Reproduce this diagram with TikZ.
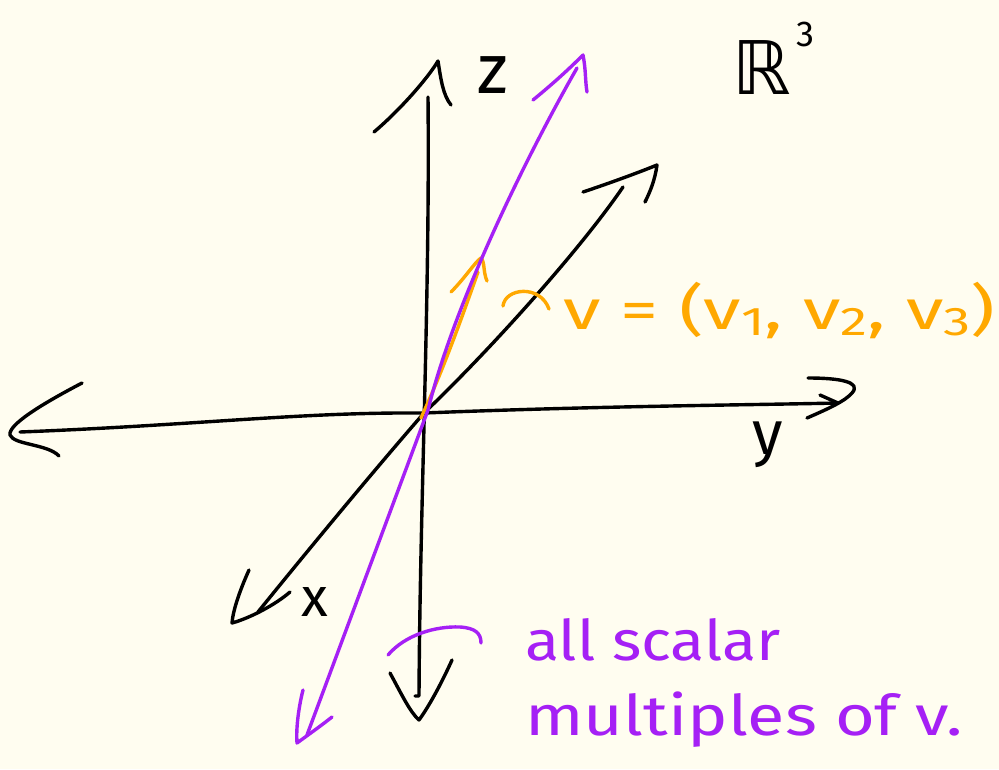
\documentclass[tikz,border=0pt]{standalone}
\usepackage{fontspec}
\setmainfont{Fira Sans}
\newfontfamily\djv{DejaVu Sans}
\definecolor{bg}{RGB}{255,253,240}
\definecolor{vorange}{RGB}{255,168,0}
\definecolor{vpurple}{RGB}{165,32,245}
\newcommand{\sbs}[1]{\raisebox{-0.12em}{\fontsize{40}{40}\selectfont #1}}
\begin{document}
\begin{tikzpicture}[x=1pt,y=-1pt,
  stroke/.style={line width=3.4pt,line cap=round,line join=round},
  pstroke/.style={stroke,draw=vpurple},
  ostroke/.style={stroke,draw=vorange},
  lbl/.style={inner sep=0pt,anchor=center}]
\fill[bg] (0,0) rectangle (999,769);
\useasboundingbox (0,0) rectangle (999,769);
\coordinate (O) at (424,413);
% z axis
\coordinate (ztop) at (428,97);
\coordinate (zbot) at (419,696);
\draw[stroke] (ztop) .. controls (430,300) and (420,500) .. (zbot) -- ++(-4,0);
\draw[stroke] (374,132) .. controls (400,110) and (428,78) .. (438,61) .. controls (441,80) and (443,95) .. (451,105);
\draw[stroke] (390,673) .. controls (402,695) and (410,712) .. (419,720) .. controls (430,705) and (443,680) .. (452,660);
% y axis
\coordinate (yl) at (20,432);
\coordinate (yr) at (838,403);
\draw[stroke] (yl) .. controls (200,425) and (300,412) .. (O) .. controls (600,406) and (750,405) .. (yr);
\draw[stroke] (82,383) .. controls (40,405) and (8,425) .. (10,435) .. controls (14,445) and (48,444) .. (59,456);
\draw[stroke] (808,378) .. controls (840,378) and (862,382) .. (852,393) .. controls (845,401) and (830,408) .. (807,418);
\draw[stroke] (820,395) -- (yr);
% x axis
\coordinate (xt) at (623,187);
\coordinate (xb) at (258,612);
\draw[stroke] (xt) .. controls (580,250) and (490,350) .. (O) .. controls (370,475) and (300,560) .. (xb);
\draw[stroke] (583,192) .. controls (610,183) and (640,172) .. (657,165) .. controls (655,180) and (650,192) .. (645,202);
\draw[stroke] (249,570) .. controls (240,590) and (233,610) .. (232,623) .. controls (250,618) and (275,605) .. (290,592);
% orange vector
\coordinate (vt) at (478,272);
\draw[ostroke] (421,418) .. controls (443,370) and (461,320) .. (vt);
\draw[ostroke] (451,292) .. controls (465,278) and (475,262) .. (481,258) .. controls (485,262) and (483,272) .. (487,281);
% purple line
\coordinate (pt) at (577,68);
\coordinate (pb) at (307,735);
\draw[pstroke] (pt) .. controls (530,150) and (455,300) .. (428,410) -- (pb);
\draw[pstroke] (533,100) .. controls (555,82) and (570,68) .. (583,55) .. controls (586,70) and (585,80) .. (587,92);
\draw[pstroke] (303,690) .. controls (298,710) and (296,730) .. (297,743) .. controls (308,735) and (322,725) .. (332,717);
% orange pointer arc
\draw[ostroke] (503,306) .. controls (505,288) and (540,284) .. (549,309);
% purple pointer arc
\draw[pstroke] (388,655) .. controls (405,635) and (435,626) .. (460,627) .. controls (475,628) and (481,633) .. (481,643);
% labels
\node[lbl] (zl) at (493,75) {\fontsize{70}{80}\selectfont z};
\node[lbl] (ylab) at (768,445) {\fontsize{62}{70}\selectfont y};
\node[lbl] (xl) at (315,602) {\fontsize{55}{60}\selectfont x};
\node[lbl] (R3) at (762,68) {\fontsize{74}{80}\selectfont\djv ℝ};
\node[lbl] (R3e) at (805,34) {\fontsize{36}{40}\selectfont 3};
\node[lbl,text=vorange,anchor=west,xscale=1.36] (vlab) at (563,310) {\fontsize{56}{60}\selectfont v = (v\sbs{1}, v\sbs{2}, v\sbs{3})};
\node[lbl,text=vpurple,anchor=west,xscale=1.12] (l1) at (525,640) {\fontsize{56}{60}\selectfont all scalar};
\node[lbl,text=vpurple,anchor=west,xscale=1.22] (l2) at (525,720) {\fontsize{56}{60}\selectfont multiples of v.};
\end{tikzpicture}
\end{document}
